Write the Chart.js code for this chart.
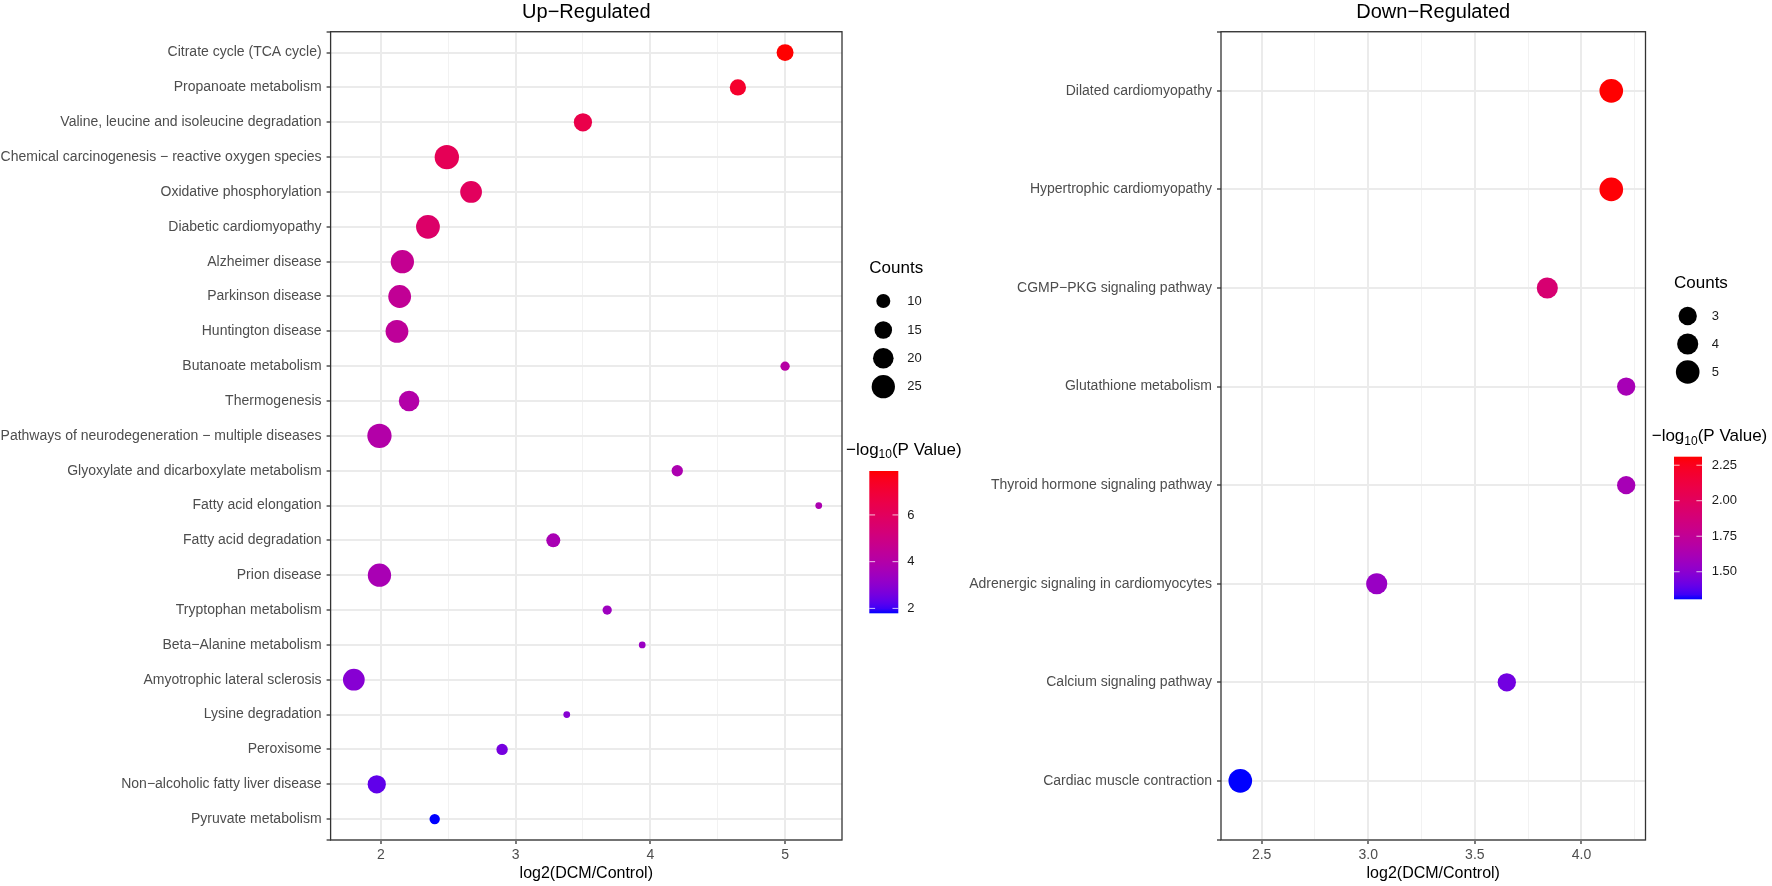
<!DOCTYPE html>
<html>
<head>
<meta charset="utf-8">
<script src="https://cdn.jsdelivr.net/npm/chart.js@4.4.1/dist/chart.umd.min.js"></script>
<style>
  html, body { margin: 0; padding: 0; background: #fff; }
  #wrap { position: relative; width: 1772px; height: 886px; }
  canvas { position: absolute; left: 0; top: 0; }
</style>
</head>
<body>
<div id="wrap">
  <canvas id="up" width="1772" height="886"></canvas>
  <canvas id="down" width="1772" height="886"></canvas>
</div>
<script>
// Up-regulated pathways (top to bottom)
const upPathways = [
  "Citrate cycle (TCA cycle)",
  "Propanoate metabolism",
  "Valine, leucine and isoleucine degradation",
  "Chemical carcinogenesis \u2212 reactive oxygen species",
  "Oxidative phosphorylation",
  "Diabetic cardiomyopathy",
  "Alzheimer disease",
  "Parkinson disease",
  "Huntington disease",
  "Butanoate metabolism",
  "Thermogenesis",
  "Pathways of neurodegeneration \u2212 multiple diseases",
  "Glyoxylate and dicarboxylate metabolism",
  "Fatty acid elongation",
  "Fatty acid degradation",
  "Prion disease",
  "Tryptophan metabolism",
  "Beta\u2212Alanine metabolism",
  "Amyotrophic lateral sclerosis",
  "Lysine degradation",
  "Peroxisome",
  "Non\u2212alcoholic fatty liver disease",
  "Pyruvate metabolism"
];
const upRatio  = [5.00, 4.65, 3.50, 2.49, 2.67, 2.35, 2.16, 2.14, 2.12, 5.00, 2.21, 1.99,
                  4.20, 5.25, 3.28, 1.99, 3.68, 3.94, 1.80, 3.38, 2.90, 1.97, 2.40];
const upCounts = [14, 13, 16, 27, 22, 26, 25, 24, 24, 5, 20, 27,
                  7, 3, 10, 25, 5, 3, 22, 3, 7, 16, 6];
const upPval   = [7.88, 7.2, 6.5, 6.2, 6.0, 5.7, 4.6, 4.5, 4.4, 4.1, 4.0, 4.0,
                  3.8, 3.8, 3.7, 3.7, 3.4, 3.3, 2.9, 2.9, 2.6, 2.3, 1.79];
const upCountTicks = [10, 15, 20, 25];
const upColorTicks = [2, 4, 6];

// Down-regulated pathways (top to bottom)
const downPathways = [
  "Dilated cardiomyopathy",
  "Hypertrophic cardiomyopathy",
  "CGMP\u2212PKG signaling pathway",
  "Glutathione metabolism",
  "Thyroid hormone signaling pathway",
  "Adrenergic signaling in cardiomyocytes",
  "Calcium signaling pathway",
  "Cardiac muscle contraction"
];
const downRatio  = [4.14, 4.14, 3.84, 4.21, 4.21, 3.04, 3.65, 2.40];
const downCounts = [5, 5, 4, 3, 3, 4, 3, 5];
const downPval   = [2.31, 2.30, 1.91, 1.61, 1.61, 1.55, 1.43, 1.306];
const downCountTicks = [3, 4, 5];
const downColorTicks = [1.5, 1.75, 2.0, 2.25];

const xTitle = "log2(DCM/Control)";
const FONT = '"Liberation Sans", Arial, sans-serif';

// ---- blue -> red gradient interpolated in CIELAB (like ggplot) ----
function toLin(c) { c /= 255; return c <= 0.04045 ? c / 12.92 : Math.pow((c + 0.055) / 1.055, 2.4); }
function fromLin(c) { const v = c <= 0.0031308 ? 12.92 * c : 1.055 * Math.pow(c, 1 / 2.4) - 0.055; return Math.round(Math.min(1, Math.max(0, v)) * 255); }
function rgbToLab(rgb) {
  const [r, g, b] = rgb.map(toLin);
  const x = (0.4124564 * r + 0.3575761 * g + 0.1804375 * b) / 0.95047;
  const y = (0.2126729 * r + 0.7151522 * g + 0.0721750 * b);
  const z = (0.0193339 * r + 0.1191920 * g + 0.9503041 * b) / 1.08883;
  const f = t => t > 0.008856 ? Math.cbrt(t) : 7.787 * t + 16 / 116;
  const fx = f(x), fy = f(y), fz = f(z);
  return [116 * fy - 16, 500 * (fx - fy), 200 * (fy - fz)];
}
function labToRgb(lab) {
  const fy = (lab[0] + 16) / 116, fx = fy + lab[1] / 500, fz = fy - lab[2] / 200;
  const fi = t => t * t * t > 0.008856 ? t * t * t : (t - 16 / 116) / 7.787;
  const x = fi(fx) * 0.95047, y = fi(fy), z = fi(fz) * 1.08883;
  const r = 3.2404542 * x - 1.5371385 * y - 0.4985314 * z;
  const g = -0.9692660 * x + 1.8760108 * y + 0.0415560 * z;
  const b = 0.0556434 * x - 0.2040259 * y + 1.0572252 * z;
  return 'rgb(' + fromLin(r) + ',' + fromLin(g) + ',' + fromLin(b) + ')';
}
const labLow = rgbToLab([0, 0, 255]);
const labHigh = rgbToLab([255, 0, 0]);
function gradColor(t) {
  t = Math.min(1, Math.max(0, t));
  return labToRgb(labLow.map((v, i) => v + (labHigh[i] - v) * t));
}

// point size scales (diameter in px from counts)
const upSize = c => (-2 + 5.06 * Math.sqrt(c)) / 2;
const downSize = c => (10.57 * Math.sqrt(c)) / 2;

// ---- panel border, title and legends ----
const panelDeco = {
  id: 'panelDeco',
  afterDraw(chart, args, o) {
    const { ctx, chartArea: a } = chart;
    ctx.save();
    ctx.strokeStyle = '#333333';
    ctx.lineWidth = 1.3;
    ctx.strokeRect(a.left, a.top, a.right - a.left, a.bottom - a.top);

    ctx.fillStyle = '#000';
    ctx.font = '20px ' + FONT;
    ctx.textAlign = 'center';
    ctx.textBaseline = 'middle';
    ctx.fillText(o.title, (a.left + a.right) / 2, 12);

    // size legend
    ctx.textAlign = 'left';
    ctx.font = '17px ' + FONT;
    ctx.fillText('Counts', o.legX, o.countsY);
    ctx.font = '13px ' + FONT;
    o.countTicks.forEach((c, i) => {
      const y = o.dotY[i];
      ctx.fillStyle = '#000';
      ctx.beginPath();
      ctx.arc(o.dotX, y, o.size(c), 0, Math.PI * 2);
      ctx.fill();
      ctx.fillStyle = '#1a1a1a';
      ctx.fillText(String(c), o.labX, y);
    });

    // colour bar title: -log10(P Value)
    ctx.fillStyle = '#000';
    let x = o.cbTitleX;
    const ty = o.cbTitleY;
    ctx.font = '17px ' + FONT;
    ctx.fillText('\u2212log', x, ty);
    x += ctx.measureText('\u2212log').width;
    ctx.font = '12px ' + FONT;
    ctx.fillText('10', x, ty + 5);
    x += ctx.measureText('10').width;
    ctx.font = '17px ' + FONT;
    ctx.fillText('(P Value)', x, ty);

    // colour bar
    const lo = Math.min(...o.pvals), hi = Math.max(...o.pvals);
    const g = ctx.createLinearGradient(0, o.cbTop, 0, o.cbTop + o.cbH);
    for (let i = 0; i <= 30; i++) g.addColorStop(i / 30, gradColor(1 - i / 30));
    ctx.fillStyle = g;
    ctx.fillRect(o.cbX, o.cbTop, o.cbW, o.cbH);
    ctx.font = '13px ' + FONT;
    o.colorTicks.forEach(v => {
      const y = o.cbTop + o.cbH * (hi - v) / (hi - lo);
      ctx.strokeStyle = 'rgba(255,255,255,0.75)';
      ctx.lineWidth = 1;
      ctx.beginPath();
      ctx.moveTo(o.cbX, y); ctx.lineTo(o.cbX + o.cbW * 0.2, y);
      ctx.moveTo(o.cbX + o.cbW * 0.8, y); ctx.lineTo(o.cbX + o.cbW, y);
      ctx.stroke();
      ctx.fillStyle = '#1a1a1a';
      ctx.fillText(o.colorFmt(v), o.labX, y);
    });
    ctx.restore();
  }
};

function makePanel(canvasId, cats, ratio, counts, pvals, size, step, labelStep, fmt, yWidth, pad, deco) {
  const lo = Math.min(...pvals), hi = Math.max(...pvals);
  const xmin = Math.min(...ratio), xmax = Math.max(...ratio);
  const ex = (xmax - xmin) * 0.05;
  const points = ratio.map((v, i) => ({ x: v, y: i, r: size(counts[i]) }));
  const isMajor = v => Math.abs(v / labelStep - Math.round(v / labelStep)) < 1e-6;

  return new Chart(document.getElementById(canvasId), {
    type: 'bubble',
    data: {
      datasets: [{
        data: points,
        backgroundColor: points.map((p, i) => gradColor((pvals[i] - lo) / (hi - lo))),
        borderWidth: 0,
        hoverRadius: 0
      }]
    },
    options: {
      responsive: false,
      animation: false,
      events: [],
      layout: { padding: pad },
      plugins: { legend: { display: false }, tooltip: { enabled: false }, panelDeco: deco },
      scales: {
        x: {
          type: 'linear',
          min: xmin - ex,
          max: xmax + ex,
          border: { display: false },
          grid: {
            color: ctx => isMajor(ctx.tick.value) ? '#ebebeb' : '#f2f2f2',
            lineWidth: ctx => isMajor(ctx.tick.value) ? 2 : 1,
            tickColor: ctx => isMajor(ctx.tick.value) ? '#333333' : 'rgba(0,0,0,0)',
            tickWidth: 1.3,
            tickLength: 4
          },
          ticks: {
            stepSize: step,
            includeBounds: false,
            autoSkip: false,
            maxRotation: 0,
            padding: 3,
            color: '#4d4d4d',
            font: { family: FONT, size: 14 },
            callback: v => isMajor(v) ? fmt(v) : ''
          },
          title: {
            display: true,
            text: xTitle,
            color: '#000',
            font: { family: FONT, size: 16 },
            padding: { top: 0, bottom: 2.5 }
          },
          afterFit: s => { s.height = 46; }
        },
        y: {
          type: 'linear',
          reverse: true,
          min: -0.6,
          max: cats.length - 1 + 0.6,
          border: { display: false },
          grid: {
            color: '#ebebeb',
            lineWidth: 2,
            tickColor: '#333333',
            tickWidth: 1.3,
            tickLength: 4
          },
          ticks: {
            stepSize: 1,
            maxTicksLimit: 100,
            autoSkip: false,
            padding: 5,
            color: '#4d4d4d',
            font: { family: FONT, size: 14 },
            callback: v => Number.isInteger(v) && cats[v] !== undefined ? cats[v] : ''
          },
          afterFit: s => { s.width = yWidth; }
        }
      }
    },
    plugins: [panelDeco]
  });
}

makePanel('up', upPathways, upRatio, upCounts, upPval, upSize, 0.5, 1,
  v => String(v), 330.6,
  { left: 0, right: 1772 - 842, top: 31.7, bottom: 0 },
  {
    title: 'Up\u2212Regulated',
    legX: 869.3, countsY: 268.3,
    dotX: 883.3, dotY: [301, 330, 358.3, 386.7], labX: 907.3,
    countTicks: upCountTicks, size: upSize,
    cbTitleX: 846, cbTitleY: 450,
    cbX: 869.3, cbW: 29, cbTop: 471, cbH: 142.3,
    pvals: upPval, colorTicks: upColorTicks, colorFmt: v => String(v)
  });

makePanel('down', downPathways, downRatio, downCounts, downPval, downSize, 0.25, 0.5,
  v => v.toFixed(1), 300,
  { left: 1221 - 300, right: 1772 - 1645.5, top: 31.7, bottom: 0 },
  {
    title: 'Down\u2212Regulated',
    legX: 1674, countsY: 283.3,
    dotX: 1687.7, dotY: [316, 344, 372], labX: 1711.7,
    countTicks: downCountTicks, size: downSize,
    cbTitleX: 1651.7, cbTitleY: 436.7,
    cbX: 1674, cbW: 28, cbTop: 456.7, cbH: 142.6,
    pvals: downPval, colorTicks: downColorTicks, colorFmt: v => v.toFixed(2)
  });
</script>
</body>
</html>
